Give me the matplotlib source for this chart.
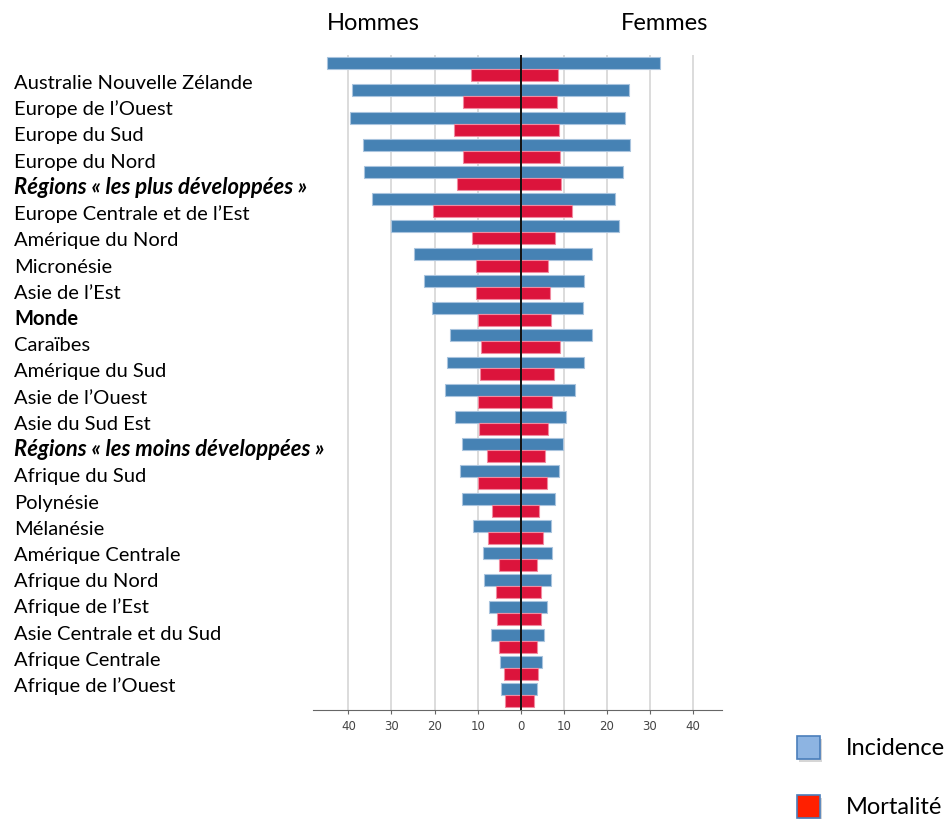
import numpy as np
import matplotlib
matplotlib.use("Agg")
import matplotlib.pyplot as plt
from matplotlib.patches import Rectangle

# Régions, de haut en bas
regions = [
    "Australie Nouvelle Zélande", "Europe de l’Ouest", "Europe du Sud", "Europe du Nord",
    "Régions « les plus développées »", "Europe Centrale et de l’Est", "Amérique du Nord",
    "Micronésie", "Asie de l’Est", "Monde", "Caraïbes", "Amérique du Sud", "Asie de l’Ouest",
    "Asie du Sud Est", "Régions « les moins développées »", "Afrique du Sud", "Polynésie",
    "Mélanésie", "Amérique Centrale", "Afrique du Nord", "Afrique de l’Est",
    "Asie Centrale et du Sud", "Afrique Centrale", "Afrique de l’Ouest",
]
# style des étiquettes : 'n' normal, 'b' gras, 'bi' gras italique
label_style = ["n", "n", "n", "n", "bi", "n", "n", "n", "n", "b", "n", "n", "n",
               "n", "bi", "n", "n", "n", "n", "n", "n", "n", "n", "n"]

incidence_hommes = [44.9, 39.1, 39.6, 36.6, 36.3, 34.6, 30.0, 24.8, 22.4, 20.6, 16.3, 17.2,
                    17.6, 15.2, 13.7, 14.1, 13.7, 11.1, 8.7, 8.5, 7.3, 7.0, 4.9, 4.6]
incidence_femmes = [32.3, 25.1, 24.2, 25.4, 23.8, 21.9, 22.7, 16.6, 14.7, 14.5, 16.6, 14.7,
                    12.5, 10.4, 9.9, 8.8, 8.0, 7.1, 7.3, 7.1, 6.2, 5.3, 4.9, 3.8]
mortalite_hommes = [11.5, 13.3, 15.5, 13.5, 14.8, 20.3, 11.3, 10.4, 10.3, 10.0, 9.2, 9.4,
                    10.0, 9.7, 7.9, 10.0, 6.6, 7.7, 5.0, 5.7, 5.5, 5.0, 3.8, 3.6]
mortalite_femmes = [8.6, 8.4, 8.8, 9.2, 9.4, 11.9, 8.0, 6.4, 6.8, 7.0, 9.2, 7.7,
                    7.3, 6.4, 5.7, 6.0, 4.3, 5.1, 3.8, 4.7, 4.7, 3.8, 4.0, 3.1]

ticks = [-40, -30, -20, -10, 0, 10, 20, 30, 40]

BLUE = "#4682b4"
RED = "#dc143c"

W, H = 948, 819
fig = plt.figure(figsize=(W / 100, H / 100), dpi=100)
ax = fig.add_axes([313 / W, 1 - 710 / H, 409 / W, 655 / H])

y = np.arange(len(regions))
bh = 0.44

# incidence au-dessus, mortalité en dessous de chaque ligne
ax.barh(y - bh / 2, -np.array(incidence_hommes), height=bh, color=BLUE,
        edgecolor="#a9c4de", linewidth=0.8, zorder=2)
ax.barh(y - bh / 2, incidence_femmes, height=bh, color=BLUE,
        edgecolor="#a9c4de", linewidth=0.8, zorder=2)
ax.barh(y + bh / 2, -np.array(mortalite_hommes), height=bh, color=RED,
        edgecolor="#f08aa0", linewidth=0.8, zorder=2)
ax.barh(y + bh / 2, mortalite_femmes, height=bh, color=RED,
        edgecolor="#f08aa0", linewidth=0.8, zorder=2)

ax.axvline(0, color="#111111", lw=1.4, zorder=3)

ax.set_xlim(-48.2, 46.7)
ax.set_ylim(23.55, -0.52)
ax.set_xticks(ticks)
ax.set_xticklabels([str(abs(t)) for t in ticks], fontsize=8.5, color="#444444",
                   family="DejaVu Sans")
ax.set_yticks([])
ax.grid(axis="x", color="#d9d9d9", lw=1.3, zorder=0)
ax.set_axisbelow(True)
for s in ["top", "left", "right"]:
    ax.spines[s].set_visible(False)
ax.spines["bottom"].set_color("#666666")
ax.tick_params(axis="x", length=3, color="#666666", pad=4)

# étiquettes des régions (ligne de base)
for i, (name, st) in enumerate(zip(regions, label_style)):
    yy = 1 - (89 + i * 26.22) / H
    kw = {"fontsize": 14.5}
    if "b" in st:
        kw["fontweight"] = "bold"
    if "i" in st:
        kw["fontstyle"] = "italic"
        kw["fontsize"] = 15.8
    fig.text(14 / W, yy, name, family="Lato", va="baseline", ha="left",
             color="black", **kw)

fig.text(373 / W, 1 - 24 / H, "Hommes", fontsize=17, family="Lato", ha="center", va="center")
fig.text(665 / W, 1 - 24 / H, "Femmes", fontsize=17, family="Lato", ha="center", va="center")

# légende
leg_items = [("Incidence", "#8db4e2", 736, 755), ("Mortalité", "#ff2000", 795, 814)]
for txt, col, top, base in leg_items:
    fig.patches.append(Rectangle(((797 + 2) / W, 1 - (top + 24 + 2) / H), 23 / W, 23 / H,
                                 transform=fig.transFigure, facecolor="#bbbbbb",
                                 edgecolor="none", alpha=0.6))
    fig.patches.append(Rectangle((797 / W, 1 - (top + 23) / H), 23 / W, 23 / H,
                                 transform=fig.transFigure, facecolor=col,
                                 edgecolor="#4a7ebb", linewidth=1.2))
    fig.text(846 / W, 1 - base / H, txt, fontsize=17, family="Lato",
             ha="left", va="baseline")

fig.savefig("out.png", dpi=100)
